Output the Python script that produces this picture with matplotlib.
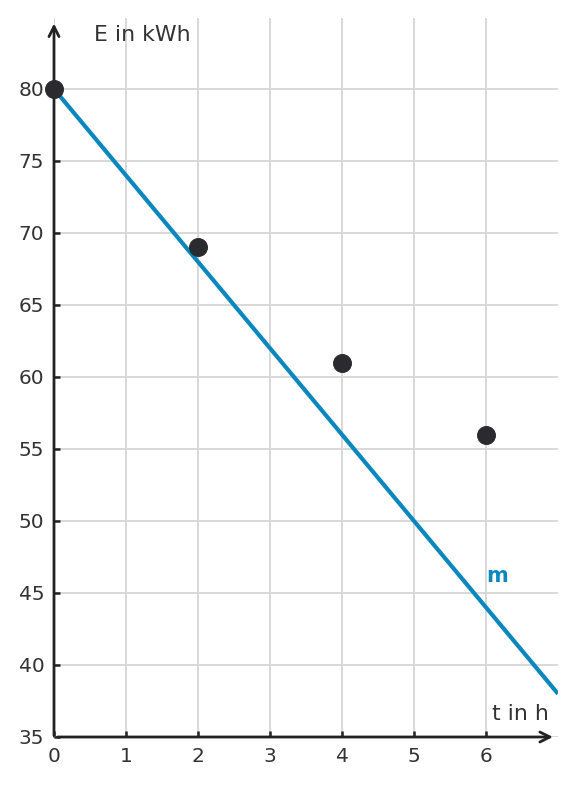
import matplotlib
matplotlib.use("Agg")
import matplotlib.pyplot as plt

# measured points
t_hours = [0, 2, 4, 6]
energy_kwh = [80, 69, 61, 56]

# model line m: E = 80 - 6 t
m_start = 80
m_slope = -6
m_t = [0, 7]

x_ticks = [0, 1, 2, 3, 4, 5, 6]
y_ticks = [35, 40, 45, 50, 55, 60, 65, 70, 75, 80]

W, H = 575, 785
fig = plt.figure(figsize=(W / 100, H / 100), dpi=100)
x0, x1, y0, y1 = 54, 558, 737, 18
ax = fig.add_axes([x0 / W, 1 - y0 / H, (x1 - x0) / W, (y0 - y1) / H])

ax.set_xlim(0, 7)
ax.set_ylim(35, 35 + (y0 - y1) / 14.4)

grid_col = "#d6d6d6"
axis_col = "#222222"
blue = "#0a87bd"

ax.set_xticks(x_ticks)
ax.set_yticks(y_ticks)
ax.grid(True, color=grid_col, lw=1.3)
ax.set_axisbelow(True)
for s in ["top", "right", "left", "bottom"]:
    ax.spines[s].set_visible(False)

ax.tick_params(direction="in", length=4, width=1.8, color=axis_col,
               labelsize=14.5, labelcolor="#333333", pad=7)

# axes drawn as lines with open arrow heads
ax.annotate("", xy=(6.93, 35), xytext=(0.05, 35),
            arrowprops=dict(arrowstyle="->", color=axis_col, lw=2,
                            mutation_scale=18, shrinkA=0, shrinkB=0),
            annotation_clip=False)
ax.annotate("", xy=(0, 84.55), xytext=(0, 35.1),
            arrowprops=dict(arrowstyle="->", color=axis_col, lw=2,
                            mutation_scale=18, shrinkA=0, shrinkB=0),
            annotation_clip=False)

ax.plot(m_t, [m_start + m_slope * t for t in m_t], color=blue, lw=3,
        solid_capstyle="butt", zorder=3, clip_on=True)
ax.scatter(t_hours, energy_kwh, s=160, color="#2b2b2f", zorder=6,
           clip_on=False)

ax.text(0.55, 83.75, "E in kWh", fontsize=15.8, color="#333333",
        ha="left", va="center")
ax.text(6.88, 36.6, "t in h", fontsize=15.8, color="#333333",
        ha="right", va="center")
ax.text(6.01, 46.2, "m", fontsize=15, color=blue, fontweight="bold",
        ha="left", va="center")

fig.savefig("out.png", dpi=100)
